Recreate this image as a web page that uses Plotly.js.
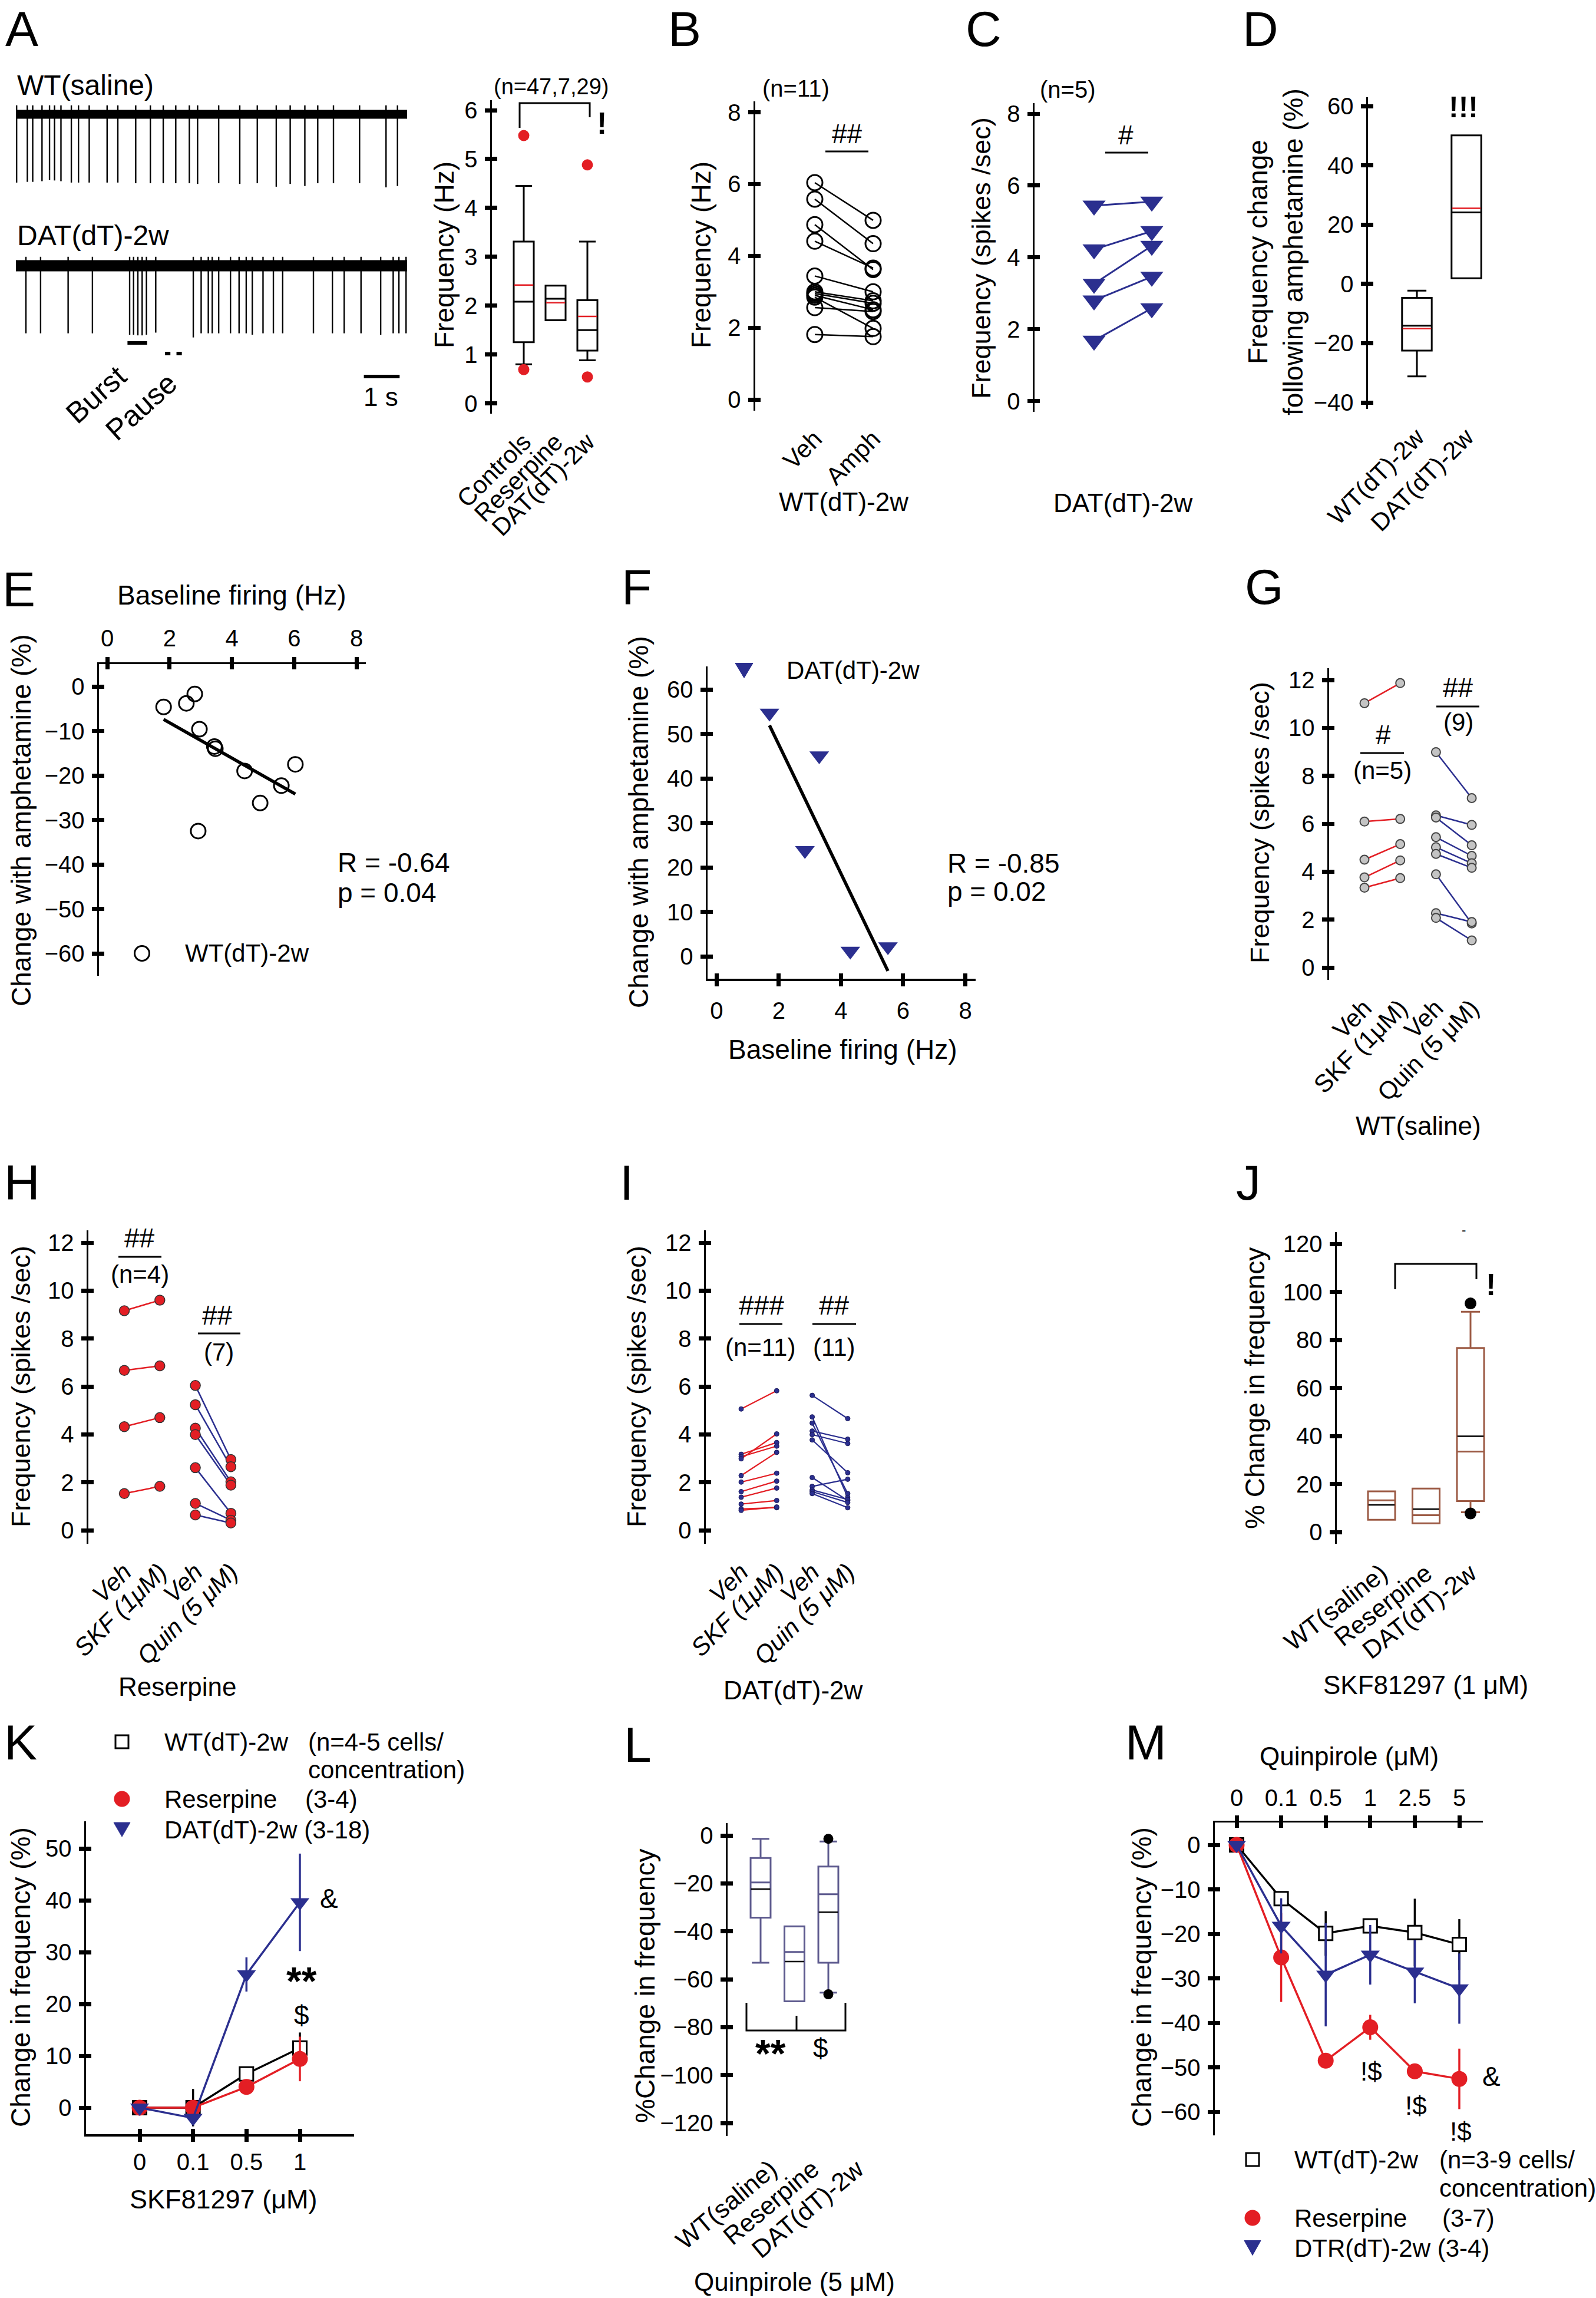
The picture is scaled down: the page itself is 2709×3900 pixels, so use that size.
<!DOCTYPE html>
<html><head><meta charset="utf-8">
<script src="https://cdn.plot.ly/plotly-3.0.1.min.js"></script>
<style>html,body{margin:0;padding:0;background:#fff}#chart{width:2709px;height:3900px}</style>
</head><body><div id="chart"></div>
<script>
// ================= DATA =================
// A: example spike trains (time, s; spike amplitude, normalised)
const wtSalineSpikeTimes = [0.02,0.32,0.47,0.73,0.94,1.08,1.26,1.55,1.75,2.05,2.55,2.85,3.35,3.76,4.12,4.47,4.85,5.08,5.67,6.26,6.75,7.28,7.67,8.08,8.44,8.88,9.61,10.35,10.67];
const wtSalineSpikeAmps  = [0.99,0.98,0.98,0.97,0.95,0.96,0.97,0.99,0.99,0.99,0.99,0.99,1.00,1.00,1.00,1.00,1.00,1.01,1.00,1.01,1.00,1.05,1.01,1.04,1.00,1.00,1.00,1.06,1.04];
const datSpikeTimes = [0.28,0.69,1.46,2.14,3.18,3.29,3.41,3.53,3.65,3.91,4.96,5.18,5.38,5.49,5.67,6.00,6.24,6.44,6.61,6.91,7.20,7.46,8.32,8.85,9.18,9.65,10.20,10.55,10.71,10.91];
const datSpikeAmps  = [0.98,0.98,0.98,0.98,1.00,1.00,1.01,1.01,1.00,0.97,1.04,0.98,0.98,0.98,0.98,0.98,0.98,0.98,1.00,0.98,0.98,0.98,0.98,0.98,0.98,0.98,1.00,0.98,0.98,0.98];
const traceDuration = 10.94;
const burstWindow = [3.12, 3.67];
const pauseWindows = [[4.17, 4.32], [4.49, 4.64]];
const scaleBarWindow = [9.73, 10.73];

// A: frequency box plot (Hz)
const aGroups = ['Controls', 'Reserpine', 'DAT(dT)-2w'];
const aQ1 = [1.25, 1.70, 1.08];
const aMedian = [2.08, 2.14, 1.50];
const aQ3 = [3.31, 2.41, 2.11];
const aLowerFence = [0.80, 1.70, 0.88];
const aUpperFence = [4.45, 2.41, 3.31];
const aMean = [2.42, 2.06, 1.78];
const aOutlierGroup = [1, 1, 3, 3];
const aOutlierValue = [5.48, 0.69, 4.88, 0.54];

// B: WT(dT)-2w Veh vs Amph (Hz)
const bCategories = ['Veh', 'Amph'];
const bVeh  = [6.04, 5.58, 4.87, 4.41, 3.44, 3.00, 2.95, 2.90, 2.85, 2.56, 1.81];
const bAmph = [4.99, 4.34, 3.62, 3.66, 3.00, 2.75, 2.68, 2.50, 1.98, 2.45, 1.75];

// C: DAT(dT)-2w Veh vs Amph (spikes/sec)
const cVeh  = [5.44, 4.22, 3.26, 2.80, 1.68];
const cAmph = [5.55, 4.73, 4.32, 3.46, 2.58];

// D: frequency change following amphetamine (%)
const dGroups = ['WT(dT)-2w', 'DAT(dT)-2w'];
const dQ1 = [-22.5, 1.9];
const dMedian = [-14.1, 24.1];
const dQ3 = [-4.7, 50.1];
const dLowerFence = [-31.2, 1.9];
const dUpperFence = [-2.3, 50.1];
const dMean = [-15.1, 25.5];

// E: WT(dT)-2w baseline vs change
const eBaseline = [1.81, 2.54, 2.81, 2.96, 3.44, 3.47, 4.41, 4.91, 5.59, 6.04, 2.92];
const eChange   = [-4.6, -3.8, -1.7, -9.6, -13.5, -14.0, -19.0, -26.2, -22.3, -17.5, -32.5];

// F: DAT(dT)-2w baseline vs change
const fBaseline = [1.70, 2.84, 3.30, 4.30, 5.51];
const fChange   = [54.7, 23.8, 45.1, 1.2, 2.2];

// G, H, I: Veh vs drug pairs
const pairCategories = ['Veh', 'SKF (1\u03bcM)', 'Veh', 'Quin (5 \u03bcM)'];
const gSkfVeh  = [11.03, 6.09, 4.50, 3.76, 3.33];
const gSkf     = [11.87, 6.20, 5.15, 4.47, 3.73];
const gQuinVeh = [8.99, 6.35, 6.26, 5.44, 5.02, 4.74, 3.89, 2.27, 2.07];
const gQuin    = [7.07, 5.95, 5.10, 4.66, 4.35, 4.16, 1.84, 1.90, 1.13];

const hSkfVeh  = [9.16, 6.67, 4.32, 1.53];
const hSkf     = [9.60, 6.86, 4.70, 1.83];
const hQuinVeh = [6.04, 5.24, 4.26, 3.99, 2.61, 1.12, 0.64];
const hQuin    = [2.95, 2.65, 2.02, 1.88, 0.71, 0.42, 0.30];

const iSkfVeh  = [5.06, 3.17, 3.07, 2.98, 2.28, 2.01, 1.61, 1.38, 1.09, 0.89, 0.83];
const iSkf     = [5.82, 3.66, 3.51, 4.02, 3.25, 2.38, 2.05, 1.76, 1.24, 0.94, 0.97];
const iQuinVeh = [5.63, 4.73, 4.47, 4.14, 3.99, 3.77, 2.20, 1.83, 1.68, 1.61, 1.53];
const iQuin    = [4.66, 1.38, 1.53, 3.80, 3.62, 2.40, 1.24, 2.13, 1.28, 1.16, 0.94];

// J: % change with SKF81297 (1 uM)
const jGroups = ['WT(saline)', 'Reserpine', 'DAT(dT)-2w'];
const jQ1 = [5.1, 3.6, 12.9];
const jMedian = [13.2, 7.0, 33.5];
const jQ3 = [16.95, 18.1, 76.6];
const jLowerFence = [5.1, 3.6, 8.2];
const jUpperFence = [16.95, 18.1, 91.7];
const jMean = [11.3, 9.5, 39.9];
const jOutlierGroup = [3, 3];
const jOutlierValue = [95.2, 7.7];

// K: SKF81297 dose response (%)
const skfConc = ['0', '0.1', '0.5', '1'];
const kWT = [0, 0, 6.5, 11.5];      const kWTErr = [0, 3.6, 0.8, 3.0];
const kRes = [0, 0, 4.0, 9.4];      const kResErr = [0, 0.5, 0.8, 4.3];
const kDAT = [0, -2.0, 25.7, 39.6]; const kDATErr = [0, 0.5, 3.3, 9.4];

// L: % change with quinpirole (5 uM)
const lGroups = ['WT(saline)', 'Reserpine', 'DAT(dT)-2w'];
const lQ1 = [-34.3, -69.2, -53.1];
const lMedian = [-19.6, -48.6, -24.5];
const lQ3 = [-9.4, -37.9, -13.0];
const lLowerFence = [-53.1, -69.2, -65.6];
const lUpperFence = [-1.4, -37.9, -2.5];
const lMean = [-22.4, -52.6, -32.0];
const lOutlierGroup = [3, 3];
const lOutlierValue = [-1.4, -66.3];

// M: quinpirole dose response (%)
const quinConc = ['0', '0.1', '0.5', '1', '2.5', '5'];
const mWT  = [0, -12.1, -19.9, -18.2, -19.7, -22.4]; const mWTErr  = [0, 1.0, 5.0, 1.5, 7.6, 5.7];
const mRes = [0, -25.3, -48.5, -41.0, -50.9, -52.6]; const mResErr = [0, 10.0, 1.5, 2.8, 1.5, 6.8];
const mDTR = [0, -18.2, -29.2, -24.7, -28.5, -32.3]; const mDTRErr = [0, 6.2, 11.6, 6.7, 7.1, 7.9];

// ================= HELPERS =================
const W = 2709, H = 3900;
const FONT = 'Liberation Sans, Arial, Helvetica, sans-serif';
const RED = '#E31E24', NAVY = '#2B2F8F', BROWN = '#9C5A44', PURPLE = '#5D5A8E';
const px = x => x / W;
const py = y => 1 - y / H;
const lin = (p, v0, p0, v1, p1) => v0 + (p - p0) * (v1 - v0) / (p1 - p0);

const traces = [], shapes = [], annotations = [];
const layout = {
  width: W, height: H, margin: {l: 0, r: 0, t: 0, b: 0},
  paper_bgcolor: '#fff', plot_bgcolor: 'rgba(0,0,0,0)',
  showlegend: false, hovermode: false,
  font: {family: FONT, color: '#000', size: 40}
};
const tickFont = {family: FONT, size: 40, color: '#000'};

function yA(k, topPx, botPx, v0, p0, v1, p1, tickvals, extra) {
  layout[k === 1 ? 'yaxis' : 'yaxis' + k] = Object.assign({
    domain: [py(botPx), py(topPx)],
    range: [lin(botPx, v0, p0, v1, p1), lin(topPx, v0, p0, v1, p1)],
    anchor: 'x' + (k === 1 ? '' : k), tickmode: 'array', tickvals: tickvals,
    ticks: 'outside', ticklen: 9, tickwidth: 7, tickcolor: '#000', ticklabelstandoff: 4,
    showline: true, linewidth: 3.5, linecolor: '#000', showgrid: false, zeroline: false,
    tickfont: tickFont, fixedrange: true
  }, extra || {});
}
function xA(k, leftPx, rightPx, v0, p0, v1, p1, extra) {
  layout[k === 1 ? 'xaxis' : 'xaxis' + k] = Object.assign({
    domain: [px(leftPx), px(rightPx)],
    range: [lin(leftPx, v0, p0, v1, p1), lin(rightPx, v0, p0, v1, p1)],
    anchor: 'y' + (k === 1 ? '' : k), showline: false, ticks: '', showgrid: false, zeroline: false,
    tickfont: tickFont, fixedrange: true
  }, extra || {});
}
function catX(k, leftPx, rightPx, p1, p2, labels, extra) {
  xA(k, leftPx, rightPx, 1, p1, 2, p2, Object.assign({
    tickmode: 'array', tickvals: labels.map((_, i) => i + 1), ticktext: labels,
    tickangle: -45, ticklabelstandoff: 14, tickfont: {family: FONT, size: 42, color: '#000'}
  }, extra || {}));
}
function T(text, x, y, size, o) {
  const a = {text: text, x: px(x), y: py(y), xref: 'paper', yref: 'paper', showarrow: false,
    xanchor: 'center', yanchor: 'middle', font: {family: FONT, size: size || 44, color: '#000'}};
  if (o) { Object.assign(a, o); }
  annotations.push(a);
}
function Lpath(points, w) {
  const d = points.map((p, i) => (i ? 'L' : 'M') + px(p[0]) + ',' + py(p[1])).join(' ');
  shapes.push({type: 'path', xref: 'paper', yref: 'paper', path: d, line: {color: '#000', width: w || 3}});
}
function circleKey(cx, cy, r, fill, lineW) {
  shapes.push({type: 'circle', xref: 'paper', yref: 'paper', x0: px(cx - r), x1: px(cx + r), y0: py(cy + r), y1: py(cy - r),
    fillcolor: fill, line: {color: fill === 'rgba(0,0,0,0)' ? '#000' : fill, width: lineW}});
}
function squareKey(cx, cy, s) {
  shapes.push({type: 'rect', xref: 'paper', yref: 'paper', x0: px(cx - s / 2), x1: px(cx + s / 2), y0: py(cy + s / 2), y1: py(cy - s / 2),
    fillcolor: '#fff', line: {color: '#000', width: 3}});
}
function triKey(cx, cy, w, h, color) {
  const d = 'M' + px(cx - w / 2) + ',' + py(cy - h / 2) + ' L' + px(cx + w / 2) + ',' + py(cy - h / 2) + ' L' + px(cx) + ',' + py(cy + h / 2) + ' Z';
  shapes.push({type: 'path', xref: 'paper', yref: 'paper', path: d, fillcolor: color, line: {color: color, width: 1}});
}
function pairTrace(left, right, xa, ya, xl, xr, lineStyle, markerStyle, mode) {
  const xs = [], ys = [];
  left.forEach((v, i) => { xs.push(xl, xr, null); ys.push(v, right[i], null); });
  traces.push({type: 'scatter', mode: mode || 'lines+markers', x: xs, y: ys, xaxis: xa, yaxis: ya,
    line: lineStyle, marker: markerStyle, cliponaxis: false, hoverinfo: 'skip'});
}
function boxTrace(xa, ya, n, q1, med, q3, lo, hi, color, width, whisker) {
  const pos = q1.map((_, i) => i + 1);
  traces.push({type: 'box', x: pos, q1: q1, median: med, q3: q3, lowerfence: lo, upperfence: hi,
    xaxis: xa, yaxis: ya, width: width, whiskerwidth: whisker, boxpoints: false,
    line: {color: color, width: 3}, fillcolor: 'rgba(0,0,0,0)', hoverinfo: 'skip'});
}
function meanTrace(xa, ya, means, width, color, lw) {
  const xs = [], ys = [];
  means.forEach((m, i) => { xs.push(i + 1 - width / 2, i + 1 + width / 2, null); ys.push(m, m, null); });
  traces.push({type: 'scatter', mode: 'lines', x: xs, y: ys, xaxis: xa, yaxis: ya, line: {color: color, width: lw}, hoverinfo: 'skip'});
}
function linFit(xs, ys) {
  const n = xs.length, mx = xs.reduce((a, b) => a + b) / n, my = ys.reduce((a, b) => a + b) / n;
  let sxy = 0, sxx = 0;
  xs.forEach((x, i) => { sxy += (x - mx) * (ys[i] - my); sxx += (x - mx) * (x - mx); });
  const s = sxy / sxx; const x0 = Math.min(...xs), x1 = Math.max(...xs);
  return {x: [x0, x1], y: [my + s * (x0 - mx), my + s * (x1 - mx)]};
}
function panelLetter(letter, x, yTop) {
  T(letter, x, yTop, 84, {yanchor: 'top'});
}

// ================= PANEL A: traces =================
xA(1, 27, 691, 0, 27, 1, 87.7, {visible: false});
yA(1, 170, 330, 0, 194, -1, 311, [], {visible: false});
xA(2, 27, 691, 0, 27, 1, 87.7, {visible: false});
yA(2, 420, 585, 0, 451, -1, 568, [], {visible: false});
function spikeTrace(times, amps, xa, ya, bandW) {
  traces.push({type: 'scatter', mode: 'lines', x: [0, traceDuration], y: [0, 0], xaxis: xa, yaxis: ya,
    line: {color: '#000', width: bandW}, hoverinfo: 'skip'});
  const xs = [], ys = [];
  times.forEach((t, i) => { xs.push(t, t, null); ys.push(0.13, -amps[i], null); });
  traces.push({type: 'scatter', mode: 'lines', x: xs, y: ys, xaxis: xa, yaxis: ya,
    line: {color: '#000', width: 2.4}, hoverinfo: 'skip'});
}
spikeTrace(wtSalineSpikeTimes, wtSalineSpikeAmps, 'x', 'y', 15);
spikeTrace(datSpikeTimes, datSpikeAmps, 'x2', 'y2', 19);
shapes.push({type: 'line', xref: 'x2', yref: 'paper', x0: burstWindow[0], x1: burstWindow[1], y0: py(582), y1: py(582), line: {color: '#000', width: 6}});
pauseWindows.forEach(w => shapes.push({type: 'line', xref: 'x2', yref: 'paper', x0: w[0], x1: w[1], y0: py(600), y1: py(600), line: {color: '#000', width: 6}}));
shapes.push({type: 'line', xref: 'x2', yref: 'paper', x0: scaleBarWindow[0], x1: scaleBarWindow[1], y0: py(639), y1: py(639), line: {color: '#000', width: 6}});
panelLetter('A', 37, 0);
T('WT(saline)', 27, 145, 48, {xanchor: 'left'});
T('DAT(dT)-2w', 27, 400, 48, {xanchor: 'left'});
T('Burst', 163, 670, 50, {textangle: -42});
T('Pause', 240, 690, 50, {textangle: -42});
T('1 s', 646, 673, 44);

// ================= PANEL A: box =================
catX(3, 835, 1030, 889, 943, aGroups);
yA(3, 170, 702, 6, 187, 0, 684.5, [0, 1, 2, 3, 4, 5, 6]);
boxTrace('x3', 'y3', 3, aQ1, aMedian, aQ3, aLowerFence, aUpperFence, '#000', 0.63, 0.83);
meanTrace('x3', 'y3', aMean, 0.6, RED, 2.5);
traces.push({type: 'scatter', mode: 'markers', x: aOutlierGroup, y: aOutlierValue, xaxis: 'x3', yaxis: 'y3',
  marker: {color: RED, size: 19, line: {width: 0}}, cliponaxis: false, hoverinfo: 'skip'});
T('(n=47,7,29)', 935, 147, 38);
Lpath([[882, 217], [882, 175], [1001, 175], [1001, 199]], 3);
T('<b>!</b>', 1021, 209, 52);
T('Frequency (Hz)', 754, 433, 46, {textangle: -90});

// ================= PANEL B =================
catX(4, 1282, 1560, 1383, 1482, bCategories);
yA(4, 172, 697, 8, 190.5, 0, 678, [0, 2, 4, 6, 8]);
pairTrace(bVeh, bAmph, 'x4', 'y4', 1, 2, {color: '#000', width: 2.5}, {symbol: 'circle-open', size: 26, color: '#000', line: {width: 3, color: '#000'}});
panelLetter('B', 1162, 0);
T('(n=11)', 1351, 150, 40);
T('##', 1438, 227, 46);
Lpath([[1401, 257], [1474, 257]], 3);
T('Frequency (Hz)', 1190, 433, 46, {textangle: -90});
T('WT(dT)-2w', 1432, 851, 44);

// ================= PANEL C =================
xA(5, 1756, 2040, 1, 1857, 2, 1955, {showticklabels: false});
yA(5, 175, 699, 8, 193, 0, 680.5, [0, 2, 4, 6, 8]);
pairTrace(cVeh, cAmph, 'x5', 'y5', 1, 2, {color: NAVY, width: 3}, {symbol: 'triangle-down', size: 34, color: NAVY, line: {width: 0}});
panelLetter('C', 1669, 0);
T('(n=5)', 1812, 152, 40);
T('#', 1911, 229, 46);
Lpath([[1876, 259], [1949, 259]], 3);
T('Frequency (spikes /sec)', 1665, 438, 45, {textangle: -90});
T('DAT(dT)-2w', 1906, 854, 44);

// ================= PANEL D =================
catX(6, 2322, 2600, 2405, 2489, dGroups);
yA(6, 165, 694, 60, 180, -40, 683, [-40, -20, 0, 20, 40, 60]);
boxTrace('x6', 'y6', 2, dQ1, dMedian, dQ3, dLowerFence, dUpperFence, '#000', 0.6, 0.64);
meanTrace('x6', 'y6', dMean, 0.58, RED, 2.5);
panelLetter('D', 2139, 0);
T('<b>!!!</b>', 2484, 182, 50);
T('Frequency change<br>following amphetamine (%)', 2165, 428, 46, {textangle: -90});

// ================= PANEL E =================
xA(7, 168, 621, 0, 182, 8, 605, {side: 'top', showline: true, linewidth: 3.5, linecolor: '#000',
  ticks: 'outside', ticklen: 9, tickwidth: 7, tickcolor: '#000', tickmode: 'array', tickvals: [0, 2, 4, 6, 8], ticklabelstandoff: 2});
yA(7, 1127, 1656, 0, 1165, -60, 1618, [0, -10, -20, -30, -40, -50, -60]);
const eFit = linFit(eBaseline, eChange);
traces.push({type: 'scatter', mode: 'lines', x: eFit.x, y: eFit.y, xaxis: 'x7', yaxis: 'y7', line: {color: '#000', width: 5.5}, hoverinfo: 'skip'});
traces.push({type: 'scatter', mode: 'markers', x: eBaseline, y: eChange, xaxis: 'x7', yaxis: 'y7',
  marker: {symbol: 'circle-open', size: 25, color: '#000', line: {width: 3, color: '#000'}}, cliponaxis: false, hoverinfo: 'skip'});
T('E', 32, 1000, 84);
T('Baseline firing (Hz)', 394, 1010, 46);
T('Change with amphetamine (%)', 36, 1392, 46, {textangle: -90});
T('R = -0.64', 571, 1464, 46, {xanchor: 'left'});
T('p = 0.04', 571, 1515, 46, {xanchor: 'left'});
circleKey(241, 1618, 12.5, 'rgba(0,0,0,0)', 3);
T('WT(dT)-2w', 312, 1618, 42, {xanchor: 'left'});

// ================= PANEL F =================
xA(8, 1201, 1656, 0, 1216.4, 8, 1638.5, {showline: true, linewidth: 3.5, linecolor: '#000',
  ticks: 'outside', ticklen: 9, tickwidth: 7, tickcolor: '#000', tickmode: 'array', tickvals: [0, 2, 4, 6, 8], ticklabelstandoff: 7});
yA(8, 1131, 1661, 60, 1170, 0, 1623, [0, 10, 20, 30, 40, 50, 60]);
const fFit = linFit(fBaseline, fChange);
traces.push({type: 'scatter', mode: 'lines', x: fFit.x, y: fFit.y, xaxis: 'x8', yaxis: 'y8', line: {color: '#000', width: 5.5}, hoverinfo: 'skip'});
traces.push({type: 'scatter', mode: 'markers', x: fBaseline, y: fChange, xaxis: 'x8', yaxis: 'y8',
  marker: {symbol: 'triangle-down', size: 29, color: NAVY, line: {width: 0}}, cliponaxis: false, hoverinfo: 'skip'});
T('F', 1080, 996, 84);
T('Change with amphetamine (%)', 1084, 1395, 46, {textangle: -90});
T('Baseline firing (Hz)', 1430, 1781, 46);
T('R = -0.85', 1606, 1465, 46, {xanchor: 'left'});
T('p = 0.02', 1606, 1513, 46, {xanchor: 'left'});
triKey(1263, 1138, 30, 25, NAVY);
T('DAT(dT)-2w', 1333, 1138, 42, {xanchor: 'left'});

// ================= PANEL G =================
catX(9, 2256, 2560, 2316, 2376.7, pairCategories);
yA(9, 1134, 1663, 12, 1154, 0, 1642, [0, 2, 4, 6, 8, 10, 12]);
const gMarker = {symbol: 'circle', size: 15, color: '#C4C4C4', line: {width: 2, color: '#444'}};
pairTrace(gSkfVeh, gSkf, 'x9', 'y9', 1, 2, {color: RED, width: 2.5}, gMarker);
pairTrace(gQuinVeh, gQuin, 'x9', 'y9', 3, 4, {color: NAVY, width: 2.5}, gMarker);
T('G', 2145, 996, 84);
T('Frequency (spikes /sec)', 2138, 1396, 45, {textangle: -90});
T('#', 2348, 1247, 46);
Lpath([[2309, 1278], [2383, 1278]], 3);
T('(n=5)', 2346, 1307, 42);
T('##', 2475, 1167, 46);
Lpath([[2438, 1199], [2511, 1199]], 3);
T('(9)', 2475, 1226, 42);
T('WT(saline)', 2407, 1910, 44);

// ================= PANEL H =================
const italicTick = {family: FONT, size: 42, color: '#000', style: 'italic'};
catX(10, 150, 430, 211, 271.3, pairCategories, {tickfont: italicTick});
yA(10, 2088, 2620, 12, 2109, 0, 2597, [0, 2, 4, 6, 8, 10, 12]);
const hMarker = {symbol: 'circle', size: 17, color: RED, line: {width: 1.5, color: '#333'}};
pairTrace(hSkfVeh, hSkf, 'x10', 'y10', 1, 2, {color: RED, width: 2.5}, hMarker);
pairTrace(hQuinVeh, hQuin, 'x10', 'y10', 3, 4, {color: NAVY, width: 2.5}, hMarker);
T('H', 37, 2007, 84);
T('Frequency (spikes /sec)', 35, 2353, 45, {textangle: -90});
T('##', 237, 2101, 46);
Lpath([[201, 2133], [274, 2133]], 3);
T('(n=4)', 237, 2162, 42);
T('##', 369, 2232, 46);
Lpath([[336, 2263], [408, 2263]], 3);
T('(7)', 371, 2294, 42);
T('Reserpine', 301, 2862, 44);

// ================= PANEL I =================
catX(11, 1198, 1480, 1258, 1318.3, pairCategories, {tickfont: italicTick});
yA(11, 2088, 2620, 12, 2109, 0, 2597, [0, 2, 4, 6, 8, 10, 12]);
const iMarker = {symbol: 'circle', size: 8, color: NAVY, line: {width: 1, color: '#1a1a5a'}};
pairTrace(iSkfVeh, iSkf, 'x11', 'y11', 1, 2, {color: RED, width: 2.2}, iMarker);
pairTrace(iQuinVeh, iQuin, 'x11', 'y11', 3, 4, {color: NAVY, width: 2.2}, iMarker);
T('I', 1063, 2007, 84);
T('Frequency (spikes /sec)', 1080, 2353, 45, {textangle: -90});
T('###', 1292, 2215, 46);
Lpath([[1255, 2247], [1328, 2247]], 3);
T('(n=11)', 1290, 2286, 42);
T('##', 1416, 2215, 46);
Lpath([[1379, 2247], [1453, 2247]], 3);
T('(11)', 1416, 2286, 42);
T('DAT(dT)-2w', 1346, 2868, 44);

// ================= PANEL J =================
catX(12, 2269, 2560, 2345, 2420.5, jGroups, {tickangle: -38, ticklabelstandoff: 16, tickfont: {family: FONT, size: 43, color: '#000'}});
yA(12, 2091, 2620, 120, 2111, 0, 2600, [0, 20, 40, 60, 80, 100, 120]);
boxTrace('x12', 'y12', 3, jQ1, jMedian, jQ3, jLowerFence, jUpperFence, BROWN, 0.61, 0.7);
meanTrace('x12', 'y12', jMean, 0.59, '#000', 2.5);
traces.push({type: 'scatter', mode: 'markers', x: jOutlierGroup, y: jOutlierValue, xaxis: 'x12', yaxis: 'y12',
  marker: {color: '#000', size: 20, line: {width: 0}}, cliponaxis: false, hoverinfo: 'skip'});
T('J', 2119, 2007, 84);
T('% Change in frequency', 2130, 2356, 46, {textangle: -90});
Lpath([[2368, 2188], [2368, 2145], [2506, 2145], [2506, 2171]], 3);
T('<b>!</b>', 2530, 2180, 52);
T('-', 2484, 2087, 22);
T('SKF81297 (1 \u03bcM)', 2420, 2859, 44);

// ================= PANEL K =================
xA(13, 146, 601, 0, 237, 3, 509, {type: 'category', categoryorder: 'array', categoryarray: skfConc,
  showline: true, linewidth: 3.5, linecolor: '#000', ticks: 'outside', ticklen: 9, tickwidth: 7, tickcolor: '#000', ticklabelstandoff: 0});
yA(13, 3091, 3622, 50, 3137, 0, 3577, [0, 10, 20, 30, 40, 50]);
function doseTrace(xa, ya, x, y, err, color, symbol, size, fill) {
  traces.push({type: 'scatter', mode: 'lines+markers', x: x, y: y, xaxis: xa, yaxis: ya,
    line: {color: color, width: 3.5},
    marker: {symbol: symbol, size: size, color: fill, line: {color: color, width: symbol === 'square' ? 3 : 0}},
    error_y: {type: 'data', array: err, visible: true, color: color, thickness: 3.5, width: 0},
    cliponaxis: false, hoverinfo: 'skip'});
}
doseTrace('x13', 'y13', skfConc, kWT, kWTErr, '#000', 'square', 23, '#fff');
doseTrace('x13', 'y13', skfConc, kRes, kResErr, RED, 'circle', 27, RED);
doseTrace('x13', 'y13', skfConc, kDAT, kDATErr, NAVY, 'triangle-down', 28, NAVY);
T('K', 35, 2957, 84);
T('Change in frequency (%)', 35, 3356, 46, {textangle: -90});
T('SKF81297 (\u03bcM)', 379, 3732, 45);
T('&', 558, 3222, 46);
T('<b>**</b>', 512, 3362, 66);
T('$', 512, 3420, 46);
squareKey(207, 2956, 22);
T('WT(dT)-2w', 277, 2956, 42, {xanchor: 'left'});
T('(n=4-5 cells/', 521, 2956, 42, {xanchor: 'left'});
T('concentration)', 521, 3003, 42, {xanchor: 'left'});
circleKey(207, 3053, 13.5, RED, 0);
T('Reserpine', 277, 3053, 42, {xanchor: 'left'});
T('(3-4)', 516, 3053, 42, {xanchor: 'left'});
triKey(207, 3105, 28, 24, NAVY);
T('DAT(dT)-2w (3-18)', 277, 3105, 42, {xanchor: 'left'});

// ================= PANEL L =================
catX(14, 1235, 1480, 1291, 1348.5, lGroups, {tickvals: [1.30, 2.54, 3.85], tickangle: -40, ticklabelstandoff: 22,
  tickfont: {family: FONT, size: 43, color: '#000'}});
yA(14, 3094, 3625, 0, 3115, -120, 3603, [0, -20, -40, -60, -80, -100, -120]);
boxTrace('x14', 'y14', 3, lQ1, lMedian, lQ3, lLowerFence, lUpperFence, PURPLE, 0.59, 0.87);
meanTrace('x14', 'y14', lMean, 0.57, '#000', 2.5);
traces.push({type: 'scatter', mode: 'markers', x: lOutlierGroup, y: lOutlierValue, xaxis: 'x14', yaxis: 'y14',
  marker: {color: '#000', size: 17, line: {width: 0}}, cliponaxis: false, hoverinfo: 'skip'});
T('L', 1082, 2961, 84);
T('%Change in frequency', 1095, 3371, 46, {textangle: -90});
Lpath([[1267, 3399], [1267, 3446], [1435, 3446], [1435, 3399]], 3);
Lpath([[1352, 3421], [1352, 3446]], 3);
T('<b>**</b>', 1308, 3485, 66);
T('$', 1393, 3476, 46);
T('Quinpirole (5 \u03bcM)', 1348, 3872, 44);

// ================= PANEL M =================
xA(15, 2062, 2517, 0, 2099, 5, 2477, {type: 'category', categoryorder: 'array', categoryarray: quinConc, side: 'top',
  showline: true, linewidth: 3.5, linecolor: '#000', ticks: 'outside', ticklen: 9, tickwidth: 7, tickcolor: '#000', ticklabelstandoff: 0});
yA(15, 3093, 3624, 0, 3131, -60, 3584, [0, -10, -20, -30, -40, -50, -60]);
doseTrace('x15', 'y15', quinConc, mWT, mWTErr, '#000', 'square', 23, '#fff');
doseTrace('x15', 'y15', quinConc, mRes, mResErr, RED, 'circle', 27, RED);
doseTrace('x15', 'y15', quinConc, mDTR, mDTRErr, NAVY, 'triangle-down', 28, NAVY);
T('M', 1945, 2957, 84);
T('Quinpirole (\u03bcM)', 2290, 2980, 44);
T('Change in frequency (%)', 1938, 3356, 46, {textangle: -90});
T('!$', 2327, 3515, 44);
T('!$', 2403, 3573, 44);
T('!$', 2479, 3617, 44);
T('&', 2531, 3524, 46);
squareKey(2126, 3665, 22);
T('WT(dT)-2w', 2195, 3665, 42, {xanchor: 'left'});
T('(n=3-9 cells/', 2441, 3665, 42, {xanchor: 'left'});
T('concentration)', 2441, 3713, 42, {xanchor: 'left'});
circleKey(2126, 3764, 13.5, RED, 0);
T('Reserpine', 2195, 3764, 42, {xanchor: 'left'});
T('(3-7)', 2446, 3764, 42, {xanchor: 'left'});
triKey(2126, 3815, 28, 25, NAVY);
T('DTR(dT)-2w (3-4)', 2195, 3815, 42, {xanchor: 'left'});

// ================= twin axes for crossing tick marks =================
for (let k = 3; k <= 15; k++) {
  const base = layout['yaxis' + k];
  const id = k + 13;
  layout['yaxis' + id] = {overlaying: 'y' + k, anchor: 'x' + k, side: 'left', domain: base.domain, range: base.range,
    tickmode: 'array', tickvals: base.tickvals, ticks: 'inside', ticklen: 9, tickwidth: 7, tickcolor: '#000',
    showticklabels: false, showline: false, showgrid: false, zeroline: false, fixedrange: true};
  traces.push({type: 'scatter', x: [], y: [], xaxis: 'x' + k, yaxis: 'y' + id, hoverinfo: 'skip'});
}
[[7, 29, 5], [8, 30, 5], [13, 31, 4], [15, 32, 6]].forEach(([k, id, n]) => {
  const base = layout['xaxis' + k];
  const tv = base.tickvals || Array.from({length: n}, (_, i) => i);
  layout['xaxis' + id] = {overlaying: 'x' + k, anchor: 'y' + k, side: base.side || 'bottom', domain: base.domain, range: base.range,
    tickmode: 'array', tickvals: tv, ticks: 'inside', ticklen: 9, tickwidth: 7, tickcolor: '#000',
    showticklabels: false, showline: false, showgrid: false, zeroline: false, fixedrange: true};
  traces.push({type: 'scatter', x: [], y: [], xaxis: 'x' + id, yaxis: 'y' + k, hoverinfo: 'skip'});
});

layout.shapes = shapes;
layout.annotations = annotations;
Plotly.newPlot('chart', traces, layout, {staticPlot: true, displayModeBar: false});
</script></body></html>
